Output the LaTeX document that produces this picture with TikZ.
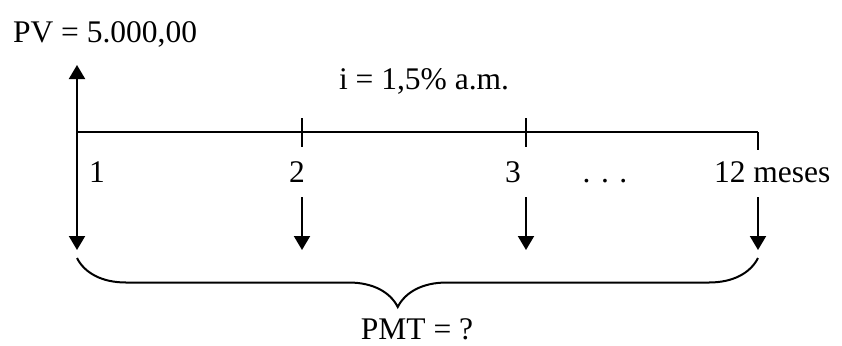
\documentclass[tikz,border=0pt]{standalone}
\usepackage{fontspec}
\setmainfont{Liberation Serif}
\usetikzlibrary{arrows.meta,decorations.pathreplacing}

\begin{document}
\begin{tikzpicture}[x=0.5pt,y=0.5pt,line width=1pt,>={Triangle[width=8pt,length=7pt]},
                    lbl/.style={inner sep=0pt,font=\fontsize{15.75}{19}\selectfont},
                    tick/.style={line width=1pt}]
    \useasboundingbox (0,0) rectangle (842,345);

    % eixo do tempo
    \coordinate (t1) at (77,213);
    \coordinate (t2) at (302,213);
    \coordinate (t3) at (526,213);
    \coordinate (t12) at (758,213);
    \coordinate (pv) at (77,280);
    \coordinate (p1) at (77,95);
    \coordinate (s2) at (302,148);
    \coordinate (p2) at (302,95);
    \coordinate (s3) at (526,148);
    \coordinate (p3) at (526,95);
    \coordinate (s12) at (758,148);
    \coordinate (p12) at (758,95);

    \draw (t1) -- (t12);
    \draw[tick] (302,227) -- (302,198);
    \draw[tick] (526,227) -- (526,198);
    \draw[tick] (t12) -- (758,195);

    \draw[->] (t1) -- (pv);
    \draw[->] (t1) -- (p1);
    \draw[->] (s2) -- (p2);
    \draw[->] (s3) -- (p3);
    \draw[->] (s12) -- (p12);

    \node[lbl,anchor=base west] (pvlbl) at (12,303) {PV = 5.000,00};
    \node[lbl,anchor=base west] (taxa) at (338,256) {i = 1,5\% a.m.};
    \node[lbl,anchor=base] (n1) at (97,163) {1};
    \node[lbl,anchor=base] (n2) at (297,163) {2};
    \node[lbl,anchor=base] (n3) at (513,163) {3};
    \node[lbl,anchor=base] (dots) at (605,163) {. . .};
    \node[lbl,anchor=base west] (n12) at (713,163) {12 meses};

    % chave das prestacoes
    \coordinate (b1) at (77,87);
    \coordinate (b2) at (758,87);
    \draw[decorate,decoration={brace,mirror,amplitude=24.5pt,aspect=0.471}] (b1) -- (b2);
    \node[lbl,anchor=base] (pmt) at (417,6) {PMT = ?};
\end{tikzpicture}
\end{document}
